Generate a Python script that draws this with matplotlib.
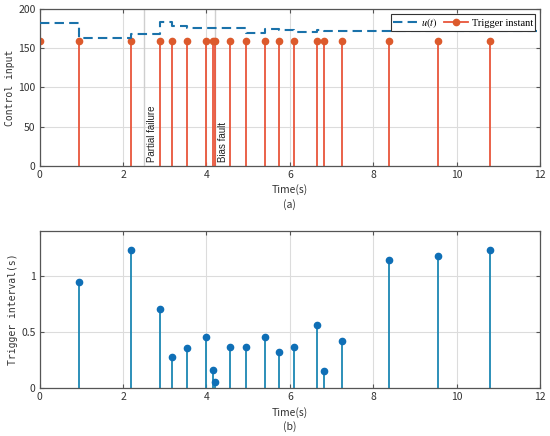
import matplotlib
matplotlib.use("Agg")
import matplotlib.pyplot as plt
from matplotlib.lines import Line2D

plt.rcParams["mathtext.fontset"] = "stix"

# ---- data ----
trigger_times = [0.0, 0.95, 2.18, 2.89, 3.17, 3.53, 3.99, 4.15, 4.21, 4.57,
                 4.95, 5.41, 5.74, 6.10, 6.66, 6.82, 7.24, 8.38, 9.56, 10.79]
u_values = [183, 163, 168, 184, 178, 176, 176, 176, 176, 176,
            170, 175, 173, 171, 173, 172, 172, 172, 172, 172]
trigger_level = 159
interval_times = trigger_times[1:]
interval_values = [0.95, 1.23, 0.71, 0.28, 0.36, 0.46, 0.16, 0.06, 0.37, 0.37,
                   0.46, 0.32, 0.37, 0.56, 0.15, 0.42, 1.14, 1.18, 1.23]
event_times = [2.5, 4.2]
event_labels = ["Partial failure", "Bias fault"]
x_ticks = [0, 2, 4, 6, 8, 10, 12]
top_yticks = [0, 50, 100, 150, 200]
bot_yticks = [0, 0.5, 1]
bot_yticklabels = ["0", "0.5", "1"]

tick_font = "Noto Sans CJK SC"
label_font = "DejaVu Sans Mono"

fig = plt.figure(figsize=(5.5, 4.36), dpi=100)
ax1 = fig.add_axes([0.0722, 0.620, 0.9096, 0.3587])
ax2 = fig.add_axes([0.0722, 0.1094, 0.9096, 0.3608])

red = "#e8553a"
red_m = "#dc5a2c"
blue_l = "#1b87b3"
blue_m = "#0f6fb6"
dash_c = "#1a72aa"

def style(ax):
    ax.set_xlim(0, 12)
    ax.set_xticks(x_ticks)
    ax.grid(True, color="#dcdcdc", linewidth=0.8)
    ax.set_axisbelow(True)
    ax.tick_params(direction="in", top=True, right=True, length=3,
                   color="#555555", labelsize=7.5, labelcolor="#333333", pad=3)
    for s in ax.spines.values():
        s.set_color("#555555")
        s.set_linewidth(0.9)
    for lab in ax.get_xticklabels() + ax.get_yticklabels():
        lab.set_fontfamily(tick_font)

# ---- top ----
for t in event_times:
    ax1.axvline(t, color="#cfcfcf", linewidth=1.0, zorder=1)
u_t = trigger_times + [12]
u_v = u_values + [u_values[-1]]
ln, = ax1.plot(u_t, u_v, drawstyle="steps-post", linestyle=(0, (4.5, 2.5)),
               color=dash_c, linewidth=1.5, zorder=3)
ml, sl, bl = ax1.stem(trigger_times, [trigger_level] * len(trigger_times),
                      basefmt=" ")
plt.setp(sl, color=red, linewidth=1.3)
plt.setp(ml, color=red_m, markersize=4.5)
ax1.set_ylim(0, 200)
ax1.set_yticks(top_yticks)
style(ax1)
for t, lab in zip(event_times, event_labels):
    ax1.text(t + 0.08, 5, lab, rotation=90, fontsize=7, color="#222222",
             va="bottom", ha="left", fontfamily="Liberation Sans")
ax1.set_ylabel("Control input", fontfamily=label_font, fontsize=7,
               color="#333333", labelpad=2)
ax1.set_xlabel("Time(s)", fontfamily=tick_font, fontsize=7.5, color="#333333",
               labelpad=3)
ax1.text(0.5, -0.25, "(a)", transform=ax1.transAxes, ha="center", va="center",
         fontsize=7.5, color="#333333", fontfamily=tick_font)
h2 = Line2D([], [], color=red, linewidth=1.3, marker="o", markevery=[1],
            markersize=4.5, markerfacecolor=red_m, markeredgecolor=red_m)
leg = ax1.legend(handles=[ln, h2], labels=[r"$u(t)$", "Trigger instant"],
                 loc="upper right", fancybox=False, edgecolor="#333333",
                 framealpha=1, borderpad=0.15, handlelength=2.3,
                 handletextpad=0.4, borderaxespad=0.5, columnspacing=0.6,
                 ncol=2, prop={"family": "Liberation Serif", "size": 7.5})
leg.get_frame().set_linewidth(0.8)

# ---- bottom ----
ml2, sl2, bl2 = ax2.stem(interval_times, interval_values, basefmt=" ")
plt.setp(sl2, color=blue_l, linewidth=1.3)
plt.setp(ml2, color=blue_m, markersize=4.5)
ax2.set_ylim(0, 1.4)
ax2.set_yticks(bot_yticks)
ax2.set_yticklabels(bot_yticklabels)
style(ax2)
ax2.set_ylabel("Trigger interval(s)", fontfamily=label_font, fontsize=7,
               color="#333333", labelpad=2)
ax2.set_xlabel("Time(s)", fontfamily=tick_font, fontsize=7.5, color="#333333",
               labelpad=3)
ax2.text(0.5, -0.244, "(b)", transform=ax2.transAxes, ha="center", va="center",
         fontsize=7.5, color="#333333", fontfamily=tick_font)

fig.savefig("out.png", dpi=100)
